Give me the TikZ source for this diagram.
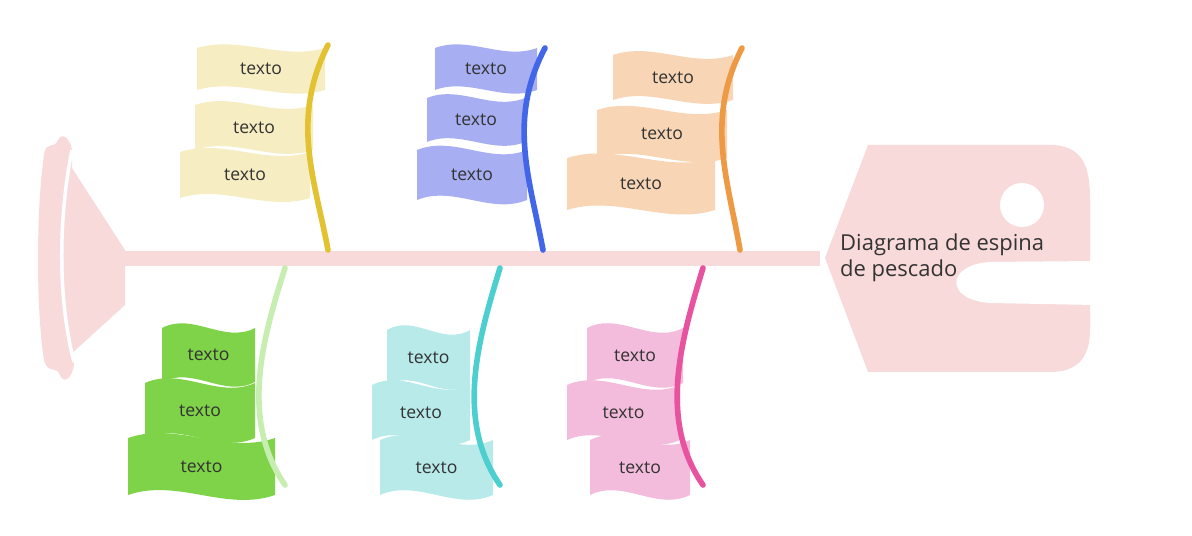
\documentclass[tikz,border=0pt]{standalone}
\usepackage{fontspec}
\setmainfont{Open Sans}
\definecolor{fishpink}{HTML}{F8DADA}
\definecolor{flagY}{HTML}{F6EDC2}\definecolor{boneY}{HTML}{E3C232}
\definecolor{flagB}{HTML}{A7AEF2}\definecolor{boneB}{HTML}{4266E8}
\definecolor{flagO}{HTML}{F7D5B5}\definecolor{boneO}{HTML}{EE9A45}
\definecolor{flagG}{HTML}{7ED348}\definecolor{boneG}{HTML}{C8EDB0}
\definecolor{flagT}{HTML}{B8EAEA}\definecolor{boneT}{HTML}{4ECFCF}
\definecolor{flagP}{HTML}{F4BCDC}\definecolor{boneP}{HTML}{E8539F}
% wavy flag: left, top, right, bottom, colour, name
\newcommand{\flag}[6]{%
  \pgfmathsetmacro{\fa}{#1+(#3-#1)/3}\pgfmathsetmacro{\fb}{#1+2*(#3-#1)/3}
  \pgfmathsetmacro{\fh}{(#4-#2)*0.3}
  \fill[#5] (#1,#2) .. controls (\fa,#2-\fh) and (\fb,#2+\fh) .. (#3,#2)
     -- (#3,#4) .. controls (\fb,#4+\fh) and (\fa,#4-\fh) .. (#1,#4) -- cycle;
  \node[flagtext] (#6) at ({(#1+#3)/2},{(#2+#4)/2}) {texto};}
\begin{document}
\begin{tikzpicture}[
        x = 0.02cm, y = -0.02cm,
        line join=round,
        flagtext/.style = {font=\fontsize{10}{12}\selectfont, text=black!80},
        bone/.style = {line width=3.2pt, line cap=round}
    ]
    \useasboundingbox (0,0) rectangle (1192,536);

    % tail
    \fill[fishpink] (70,165) -- (125,250) -- (125,305) -- (70,355) -- cycle;
    \fill[fishpink] (72,150) .. controls (70,138) and (62,132) .. (58,140)
        .. controls (54,150) and (46,140) .. (44,155)
        .. controls (36,210) and (36,310) .. (44,360)
        .. controls (48,375) and (56,365) .. (60,375)
        .. controls (64,385) and (72,378) .. (74,365) -- cycle;
    \draw[white, line width=2pt] (72,150) .. controls (58,220) and (58,300) .. (74,362);

    % spine and head
    \fill[fishpink] (122,251) rectangle (820,266);
    \fill[fishpink] (825,258) -- (868,145) -- (1050,145)
        .. controls (1085,145) and (1090,170) .. (1090,200) -- (1090,330)
        .. controls (1090,360) and (1075,372) .. (1050,372) -- (868,372) -- cycle;
    \fill[white] (1095,261) -- (990,262) .. controls (945,265) and (945,300) .. (990,303)
        -- (1095,305) -- cycle;
    \fill[white] (1022,205) circle (22);
    \node[anchor=west, align=left, font=\fontsize{12.5}{15}\selectfont, text=black!80]
        (title) at (834,258) {Diagrama de espina\\de pescado};

    % upper flags
    \flag{197}{48}{325}{90}{flagY}{y1}
    \flag{195}{105}{313}{150}{flagY}{y2}
    \flag{180}{152}{310}{198}{flagY}{y3}
    \flag{435}{48}{537}{90}{flagB}{b1}
    \flag{427}{98}{525}{142}{flagB}{b2}
    \flag{417}{150}{527}{200}{flagB}{b3}
    \flag{613}{55}{733}{100}{flagO}{o1}
    \flag{597}{110}{727}{158}{flagO}{o2}
    \flag{567}{158}{715}{210}{flagO}{o3}

    % lower flags
    \flag{162}{328}{255}{382}{flagG}{g1}
    \flag{145}{383}{255}{438}{flagG}{g2}
    \flag{128}{438}{275}{495}{flagG}{g3}
    \flag{387}{330}{470}{385}{flagT}{t1}
    \flag{372}{385}{470}{440}{flagT}{t2}
    \flag{380}{440}{493}{495}{flagT}{t3}
    \flag{587}{328}{683}{383}{flagP}{p1}
    \flag{567}{385}{680}{440}{flagP}{p2}
    \flag{590}{440}{690}{495}{flagP}{p3}

    % bones
    \draw[bone, boneY] (328,45) .. controls (290,120) and (315,180) .. (328,250);
    \draw[bone, boneB] (545,48) .. controls (507,120) and (530,180) .. (543,250);
    \draw[bone, boneO] (742,48) .. controls (705,120) and (728,180) .. (740,250);
    \draw[bone, boneG] (285,268) .. controls (262,340) and (240,420) .. (285,485);
    \draw[bone, boneT] (500,268) .. controls (478,340) and (455,420) .. (500,485);
    \draw[bone, boneP] (703,268) .. controls (681,340) and (658,420) .. (703,485);

\end{tikzpicture}
\end{document}
